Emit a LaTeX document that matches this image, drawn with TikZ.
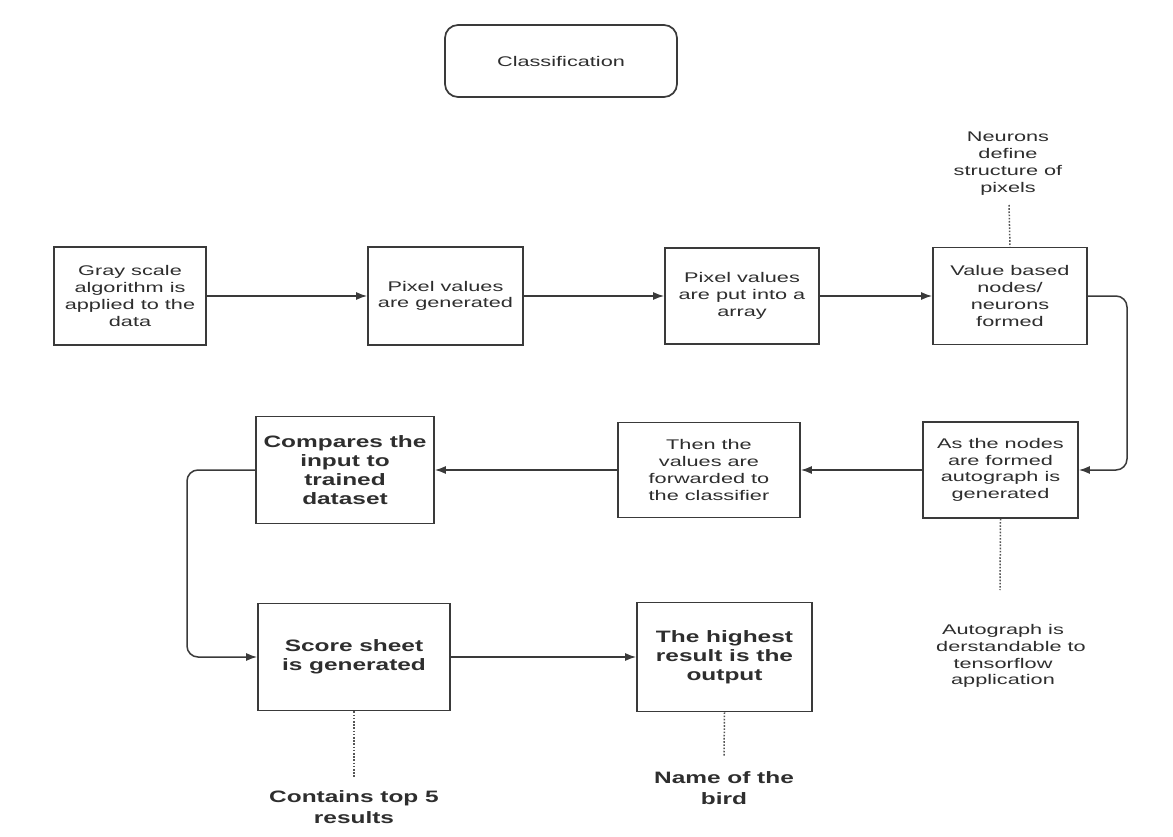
\documentclass[tikz,border=0pt]{standalone}
\usepackage{fontspec}
\setmainfont{Liberation Sans}[FakeStretch=1.55]
\newfontfamily\heavyfont{Liberation Sans}[FakeStretch=1.48]
\usetikzlibrary{arrows.meta}
\definecolor{ink}{HTML}{2E2E2E}
\definecolor{edge}{HTML}{3A3A3A}
\definecolor{dots}{HTML}{555555}
\tikzset{
  stepbox/.style={draw=edge, line width=1.7pt, fill=white, inner sep=2pt,
    align=center, text=ink, font=\fontsize{14}{16.7}\selectfont},
  bigbox/.style={stepbox, font=\heavyfont\bfseries\fontsize{16.5}{19}\selectfont},
  titlebox/.style={stepbox, rounded corners=13pt},
  note/.style={align=center, text=ink, inner sep=0pt, font=\fontsize{14}{16.9}\selectfont},
  bignote/.style={note, font=\heavyfont\bfseries\fontsize{16.5}{20.5}\selectfont},
  flow/.style={draw=edge, line width=1.5pt, -{Latex[length=11pt,width=8pt]}},
  curvedflow/.style={flow, rounded corners=11pt},
  dotline/.style={draw=dots, line width=1.5pt, dash pattern=on 1.6pt off 1.6pt}
}
\begin{document}
\begin{tikzpicture}[x=1pt, y=-1pt]
\useasboundingbox[fill=white] (0,0) rectangle (1173,837);

% title
\node[titlebox, minimum width=232pt, minimum height=72pt] (title) at (561,61) {Classification};

% first row
\node[stepbox, minimum width=152pt, minimum height=98pt] (gray) at (130,296)
  {Gray scale\\algorithm is\\applied to the\\data};
\node[stepbox, minimum width=155pt, minimum height=98pt] (pix) at (445.5,296)
  {Pixel values\\are generated};
\node[stepbox, minimum width=154pt, minimum height=96pt] (arr) at (742,296)
  {Pixel values\\are put into a\\array};
\node[stepbox, minimum width=154pt, minimum height=97pt] (neur) at (1010,296)
  {Value based\\nodes/\\neurons\\formed};

% second row
\node[stepbox, minimum width=155pt, minimum height=96pt] (auto) at (1000.5,470)
  {As the nodes\\are formed\\autograph is\\generated};
\node[stepbox, minimum width=182pt, minimum height=95pt] (fwd) at (709,470)
  {Then the\\values are\\forwarded to\\the classifier};
\node[bigbox, minimum width=178pt, minimum height=107pt] (cmp) at (345,470)
  {Compares the\\input to\\trained\\dataset};

% third row
\node[bigbox, minimum width=192pt, minimum height=107pt] (score) at (354,657)
  {Score sheet\\is generated};
\node[bigbox, minimum width=175pt, minimum height=109pt] (best) at (724.5,657)
  {The highest\\result is the\\output};

% annotations
\node[note] (nNeur) at (1008,163.5) {Neurons\\define\\structure of\\pixels};
\node[note] (nAuto) at (1003,656) {Autograph is\\\hspace*{16pt}derstandable to\\tensorflow\\application};
\node[bignote] (nScore) at (354,807) {Contains top 5\\results};
\node[bignote] (nBest) at (724,788) {Name of the\\bird};

\coordinate (cNeur) at (1009,205);
\coordinate (cAuto) at (1000,590);
\coordinate (cScore) at (354,777);
\coordinate (cBest) at (724,757);

\draw[dotline] (cNeur) -- (neur.north);
\draw[dotline] (auto.south) -- (cAuto);
\draw[dotline] (score.south) -- (cScore);
\draw[dotline] (best.south) -- (cBest);

% flow connectors
\draw[flow] (gray.east) -- (pix.west);
\draw[flow] (pix.east) -- (arr.west);
\draw[flow] (arr.east) -- (neur.west);
\draw[curvedflow] (neur.east) -- (1127,296) -- (1127,470) -- (auto.east);
\draw[flow] (auto.west) -- (fwd.east);
\draw[flow] (fwd.west) -- (cmp.east);
\draw[curvedflow] (cmp.west) -- (187,470) -- (187,657) -- (score.west);
\draw[flow] (score.east) -- (best.west);
\end{tikzpicture}
\end{document}
